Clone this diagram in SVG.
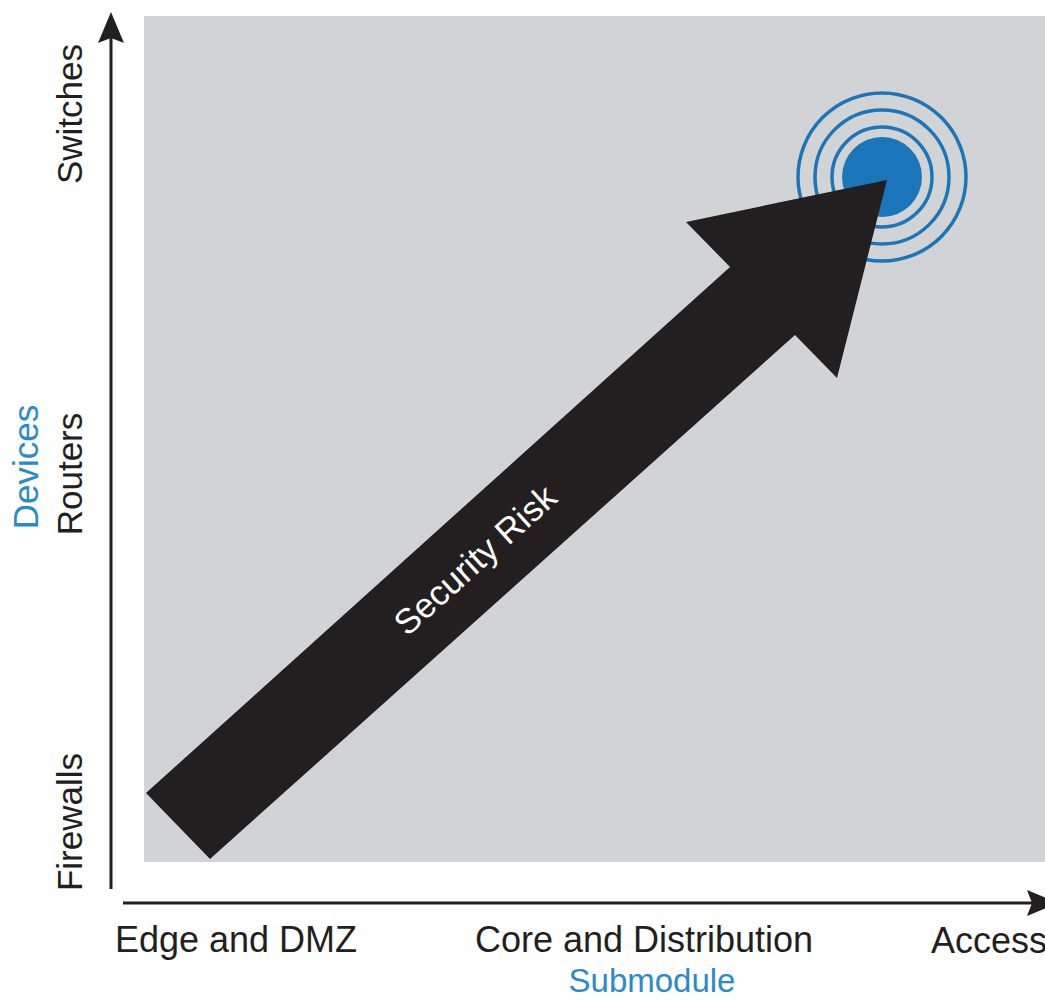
<svg xmlns="http://www.w3.org/2000/svg" width="1045" height="1001" viewBox="0 0 1045 1001">
<style>
.lbl{font-family:"Liberation Sans",Arial,sans-serif;font-size:35px;fill:#231f20}
.xl{font-size:36px}
.blue{fill:#2a8bcb}
.sub{font-size:33px}
.risk{font-family:"Liberation Sans",Arial,sans-serif;font-size:35px;fill:#ffffff}
.ring{fill:none;stroke:#1b75bb;stroke-width:3.5}
</style>
<rect width="1045" height="1001" fill="#ffffff"/>
<g id="plot-area"><rect x="144" y="16" width="901" height="846" fill="#d1d3d4"/></g>
<g id="target">
<circle cx="882" cy="177" r="40" fill="#1b75bb"/>
<circle class="ring" cx="882" cy="177" r="50"/>
<circle class="ring" cx="882" cy="177" r="67"/>
<circle class="ring" cx="882" cy="177" r="84"/>
</g>
<g id="risk-arrow">
<polygon points="146,793 730,267 686,222 887,180 837,378 795,335 210,859" fill="#231f20"/>
<text class="risk" transform="translate(475,560) rotate(-42)" x="0" y="12" text-anchor="middle">Security Risk</text>
</g>
<g id="axes">
<line x1="111" y1="889" x2="111" y2="36" stroke="#231f20" stroke-width="3"/>
<polygon points="111,12 124,43 111,38 98,43" fill="#231f20"/>
<line x1="123" y1="903" x2="1032" y2="903" stroke="#231f20" stroke-width="3"/>
<polygon points="1058,903 1027,916 1032,903 1027,890" fill="#231f20"/>
</g>
<g id="y-labels">
<text class="lbl" transform="translate(82,114) rotate(-90)" text-anchor="middle">Switches</text>
<text class="lbl" transform="translate(82,474) rotate(-90)" text-anchor="middle">Routers</text>
<text class="lbl blue" transform="translate(38,467) rotate(-90)" text-anchor="middle">Devices</text>
<text class="lbl" transform="translate(82,822) rotate(-90)" text-anchor="middle">Firewalls</text>
</g>
<g id="x-labels">
<text class="lbl xl" x="236" y="952" text-anchor="middle">Edge and DMZ</text>
<text class="lbl xl" x="644" y="952" text-anchor="middle">Core and Distribution</text>
<text class="lbl xl" x="931" y="953">Access</text>
<text class="lbl blue sub" x="652" y="992" text-anchor="middle">Submodule</text>
</g>
</svg>
